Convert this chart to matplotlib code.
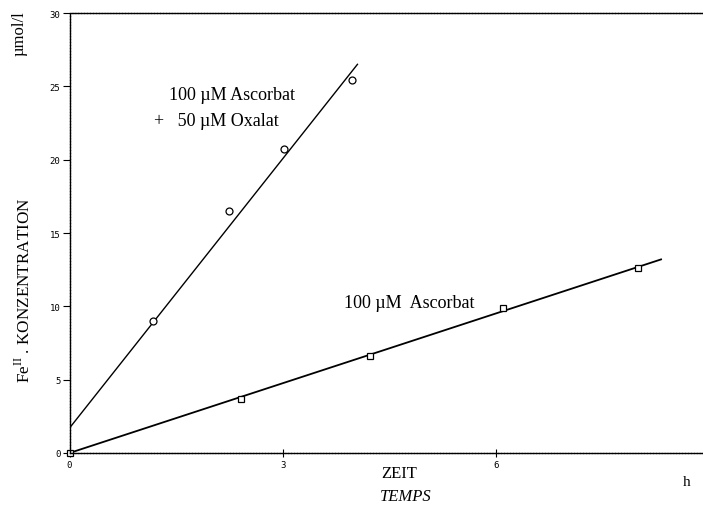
import numpy as np
import matplotlib.pyplot as plt

plt.rcParams['mathtext.fontset'] = 'custom'
plt.rcParams['mathtext.rm'] = 'Liberation Serif'

# measured points, time in h, Fe(II) in umol/l
asc_t = [0, 2.41, 4.23, 6.10, 7.99]
asc_c = [0, 3.65, 6.58, 9.86, 12.6]
ox_t = [1.18, 2.25, 3.01, 3.97]
ox_c = [8.97, 16.5, 20.75, 25.4]

# hand-drawn regression lines (end points)
asc_fit_t = [0, 8.32]
asc_fit_c = [0, 13.2]
ox_fit_t = [0, 4.05]
ox_fit_c = [1.7, 26.5]

x_ticks = [0, 3, 6]
y_ticks = [0, 5, 10, 15, 20, 25, 30]

W, H = 703, 506
fig = plt.figure(figsize=(W / 100, H / 100), dpi=100)
ax = fig.add_axes([69.5 / W, (H - 454) / H, 1 - 69.5 / W, (454 - 14) / H])

ax.plot(ox_fit_t, ox_fit_c, color='black', lw=1.0)
ax.plot(asc_fit_t, asc_fit_c, color='black', lw=1.3)
ax.plot(ox_t, ox_c, 'o', ms=5, mfc='white', mec='black', mew=0.9)
ax.plot(asc_t, asc_c, 's', ms=5, mfc='white', mec='black', mew=0.9, clip_on=False)

ax.set_xlim(0, (W - 69.5) / 71.1)
ax.set_ylim(0, 30)
ax.set_xticks(x_ticks)
ax.set_yticks(y_ticks)

mono = 'DejaVu Sans Mono'
ax.tick_params(axis='y', direction='out', length=5, width=0.8, labelsize=6.5, pad=1.5)
ax.tick_params(axis='x', direction='inout', length=6, width=0.8, labelsize=6.5, pad=2)
for lab in ax.get_xticklabels() + ax.get_yticklabels():
    lab.set_fontfamily(mono)

ax.spines['right'].set_visible(False)
for s in ['left', 'bottom', 'top']:
    ax.spines[s].set_linewidth(1.0)
    ax.spines[s].set_linestyle((0, (1.5, 0.6)))

serif = 'Liberation Serif'
fig.text(169 / W, 1 - 95 / H, '100 \u00b5M Ascorbat', family=serif, fontsize=13, va='center')
fig.text(154 / W, 1 - 122 / H, '+   50 \u00b5M Oxalat', family=serif, fontsize=13, va='center')
fig.text(344 / W, 1 - 304 / H, '100 \u00b5M  Ascorbat', family=serif, fontsize=13, va='center')
fig.text(381 / W, 1 - 474 / H, 'ZEIT', family=serif, fontsize=12, va='center')
fig.text(380 / W, 1 - 497 / H, 'TEMPS', family=serif, fontsize=12, style='italic', va='center')
fig.text(683 / W, 1 - 483 / H, 'h', family=serif, fontsize=11, va='center')
fig.text(24 / W, 1 - 290 / H, r'Fe$^{\rm II}$ . KONZENTRATION', family=serif, fontsize=12.3,
         rotation=90, ha='center', va='center')
fig.text(20 / W, 1 - 34 / H, '\u00b5mol/l', family=serif, fontsize=12,
         rotation=90, ha='center', va='center')

fig.savefig('out.png', dpi=100)
